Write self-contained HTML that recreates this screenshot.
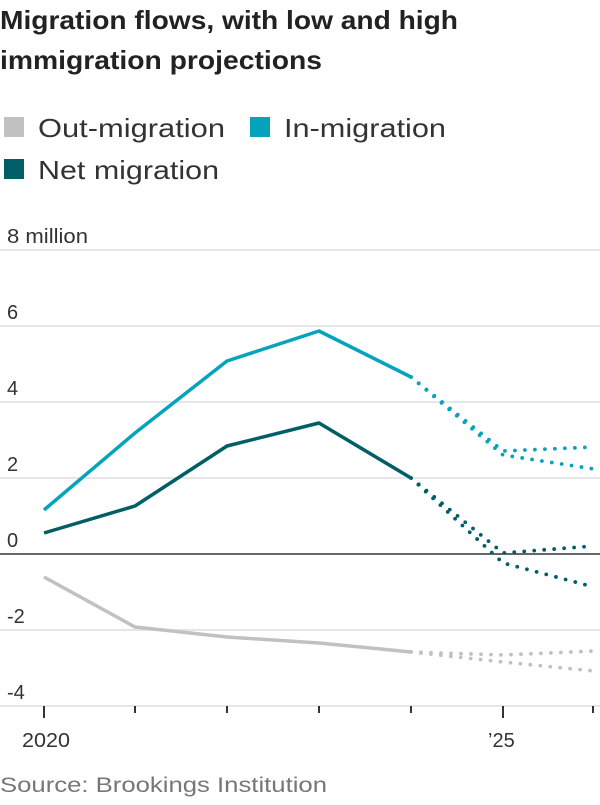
<!DOCTYPE html>
<html><head><style>
body{margin:0;background:#fff;}
svg text{font-family:"Liberation Sans",sans-serif;}
</style></head><body>
<svg width="600" height="800" xmlns="http://www.w3.org/2000/svg">
<text x="0" y="29" font-size="26" font-weight="bold" fill="#222" textLength="458" lengthAdjust="spacingAndGlyphs">Migration flows, with low and high</text>
<text x="0" y="69" font-size="26" font-weight="bold" fill="#222" textLength="322" lengthAdjust="spacingAndGlyphs">immigration projections</text>
<rect x="4" y="117" width="20" height="20" fill="#c1c1c1"/>
<text x="38" y="137" font-size="26" fill="#333" textLength="187" lengthAdjust="spacingAndGlyphs">Out-migration</text>
<rect x="250" y="117" width="20" height="20" fill="#06a3bd"/>
<text x="284" y="137" font-size="26" fill="#333" textLength="162" lengthAdjust="spacingAndGlyphs">In-migration</text>
<rect x="4" y="159" width="20" height="20" fill="#005f66"/>
<text x="38" y="179" font-size="26" fill="#333" textLength="181" lengthAdjust="spacingAndGlyphs">Net migration</text>
<g stroke="#ddd" stroke-width="1.5">
<line x1="0" y1="250" x2="600" y2="250"/>
<line x1="0" y1="326" x2="600" y2="326"/>
<line x1="0" y1="402" x2="600" y2="402"/>
<line x1="0" y1="478" x2="600" y2="478"/>
<line x1="0" y1="630" x2="600" y2="630"/>
<line x1="0" y1="706" x2="600" y2="706"/>
</g>
<line x1="0" y1="554" x2="600" y2="554" stroke="#333" stroke-width="1.5"/>
<g font-size="20" fill="#333">
<text x="7" y="243" textLength="81" lengthAdjust="spacingAndGlyphs">8 million</text>
<text x="7" y="319">6</text>
<text x="7" y="395">4</text>
<text x="7" y="471">2</text>
<text x="7" y="547">0</text>
<text x="7" y="623">-2</text>
<text x="7" y="699">-4</text>
<text x="22" y="747" textLength="48" lengthAdjust="spacingAndGlyphs">2020</text>
<text x="488" y="747">’25</text>
</g>
<g stroke="#333" stroke-width="2">
<line x1="44" y1="706" x2="44" y2="718"/>
<line x1="135" y1="706" x2="135" y2="713"/>
<line x1="227" y1="706" x2="227" y2="713"/>
<line x1="319" y1="706" x2="319" y2="713"/>
<line x1="411" y1="706" x2="411" y2="713"/>
<line x1="503" y1="706" x2="503" y2="718"/>
<line x1="593" y1="706" x2="593" y2="713"/>
</g>
<g fill="none" stroke-width="3.5" stroke-linejoin="round">
<polyline stroke="#c1c1c1" points="44,577 135,627 227,637 319,643 411,652"/>
<polyline stroke="#06a3bd" points="44,510 135,433 227,361 319,331 411,377"/>
<polyline stroke="#005f66" points="44,533 135,506 227,446 319,423 411,478"/>
</g>
<g fill="none" stroke-width="3.8" stroke-linecap="round" stroke-dasharray="0 10">
<polyline stroke="#c1c1c1" points="411,652 503,655 594,651"/>
<polyline stroke="#c1c1c1" points="411,652 503,662 594,671"/>
<polyline stroke="#06a3bd" points="411,377 503,451 594,447"/>
<polyline stroke="#06a3bd" points="411,377 503,455 594,469"/>
<polyline stroke="#005f66" points="411,478 503,553 594,546"/>
<polyline stroke="#005f66" points="411,478 503,563 594,587"/>
</g>
<text x="0" y="792" font-size="21" fill="#777" textLength="327" lengthAdjust="spacingAndGlyphs">Source: Brookings Institution</text>
</svg>
</body></html>
